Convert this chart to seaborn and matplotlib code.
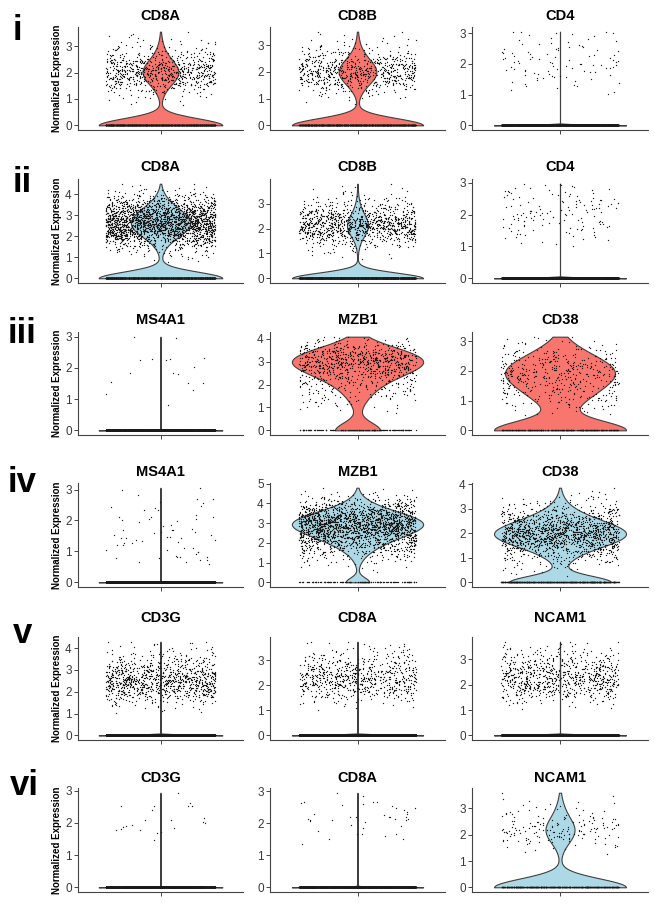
import numpy as np
import matplotlib
matplotlib.use("Agg")
import matplotlib.pyplot as plt
import seaborn as sns

sns.set_style("ticks")
plt.rcParams['font.family'] = ['Liberation Sans', 'DejaVu Sans']

# ---------------------------------------------------------------- data
ROW_LABELS = ["i", "ii", "iii", "iv", "v", "vi"]
ROW_GENES = [["CD8A", "CD8B", "CD4"],
             ["CD8A", "CD8B", "CD4"],
             ["MS4A1", "MZB1", "CD38"],
             ["MS4A1", "MZB1", "CD38"],
             ["CD3G", "CD8A", "NCAM1"],
             ["CD3G", "CD8A", "NCAM1"]]
ROW_COLORS = ["#F8766D", "#ADD8E6", "#F8766D", "#ADD8E6", "#F8766D", "#ADD8E6"]

# histograms of non-zero expression: bin k covers [0.25+0.25k, 0.5+0.25k)
BIN_START = 0.25
BIN_STEP = 0.25

i_CD8A_hist = [0, 0, 5, 15, 45, 110, 170, 170, 120, 60, 30, 15, 6]
i_CD8A_top, i_CD8A_zeros = 3.55, 1350
i_CD8B_hist = [0, 0, 3, 15, 45, 110, 165, 160, 110, 55, 25, 12, 5]
i_CD8B_top, i_CD8B_zeros = 3.5, 1300
i_CD4_hist = [0, 0, 0, 4, 8, 14, 18, 18, 14, 10, 6, 4]
i_CD4_top, i_CD4_zeros = 3.05, 4000

ii_CD8A_hist = [0, 0, 5, 15, 35, 80, 160, 270, 350, 380, 350, 280, 190, 110, 55, 20, 6]
ii_CD8A_top, ii_CD8A_zeros = 4.5, 2200
ii_CD8B_hist = [0, 0, 5, 15, 40, 100, 210, 250, 200, 120, 60, 30, 12, 5]
ii_CD8B_top, ii_CD8B_zeros = 3.8, 3000
ii_CD4_hist = [0, 0, 0, 6, 12, 20, 25, 25, 22, 16, 10]
ii_CD4_top, ii_CD4_zeros = 2.97, 5000

iii_MS4A1_values = [3.0, 2.26, 2.02, 1.56, 1.84, 2.25, 1.53, 0.8, 2.28, 2.33,
                    1.84, 2.28, 1.8, 1.16, 1.28, 2.97, 1.52]
iii_MS4A1_zeros = 4000
iii_MZB1_hist = [0, 0, 5, 12, 18, 28, 40, 55, 80, 115, 145, 150, 120, 75, 25, 6]
iii_MZB1_top, iii_MZB1_zeros = 4.1, 150
iii_CD38_hist = [0, 10, 25, 40, 50, 65, 80, 75, 55, 35, 15, 5]
iii_CD38_top, iii_CD38_zeros = 3.15, 260

iv_MS4A1_values = [3.0, 2.68, 2.55, 2.47, 2.17, 2.11, 1.99, 1.85, 2.06, 1.04,
                   1.04, 1.2, 1.37, 1.31, 1.34, 0.83, 0.83, 0.72, 0.72, 0.59,
                   2.6, 2.44, 2.33, 1.63, 1.69, 1.47, 1.47, 1.2, 0.99, 0.77,
                   1.96, 1.82, 1.74, 2.12, 3.06, 2.01, 1.63, 1.53, 1.42, 1.26,
                   0.99, 1.26, 2.33, 1.42, 1.53, 2.39, 2.06, 1.69, 1.69, 2.71,
                   0.85, 0.67, 1.1, 0.83, 0.67, 1.58, 2.12, 1.1, 1.37, 1.42,
                   0.93, 0.77, 2.82]
iv_MS4A1_zeros = 5000
iv_MZB1_hist = [0, 3, 8, 20, 40, 70, 110, 160, 220, 280, 320, 310, 250, 170, 100, 50, 20, 6]
iv_MZB1_top, iv_MZB1_zeros = 4.8, 130
iv_CD38_hist = [5, 15, 35, 70, 130, 220, 280, 270, 200, 130, 70, 35, 15, 6]
iv_CD38_top, iv_CD38_zeros = 3.85, 500

v_CD3G_hist = [0, 0, 0, 5, 15, 40, 90, 150, 180, 170, 130, 90, 55, 30, 15, 8, 3]
v_CD3G_top, v_CD3G_zeros = 4.3, 15000
v_CD8A_hist = [0, 0, 0, 5, 20, 55, 100, 135, 130, 100, 65, 40, 20, 10]
v_CD8A_top, v_CD8A_zeros = 3.75, 12000
v_NCAM1_hist = [0, 0, 0, 6, 25, 70, 120, 150, 140, 110, 75, 45, 25, 10]
v_NCAM1_top, v_NCAM1_zeros = 3.7, 13000

vi_CD3G_values = [2.94, 2.63, 2.0, 2.1, 2.52, 1.93, 1.9, 2.4, 2.14, 1.88,
                  1.79, 2.52, 2.52, 1.82, 2.08, 1.77, 1.48, 2.52, 1.72, 1.69,
                  2.03, 1.85]
vi_CD3G_zeros = 4000
vi_CD8A_values = [2.67, 2.48, 2.35, 2.2, 2.57, 2.2, 2.3, 2.2, 2.46, 2.84,
                  2.14, 2.67, 2.14, 2.09, 2.09, 2.67, 1.77, 1.5, 1.66, 1.6,
                  1.34, 1.66, 1.5, 2.09, 2.14, 2.95, 2.3, 2.62, 1.66, 2.08,
                  2.2, 2.25, 1.95, 2.4, 2.55, 1.85, 2.05, 2.6, 2.18, 1.9]
vi_CD8A_zeros = 4000
vi_NCAM1_hist = [0, 0, 0, 0, 4, 12, 30, 45, 35, 20, 12, 7, 3]
vi_NCAM1_top, vi_NCAM1_zeros = 3.6, 480


def from_hist(hist, top, zeros):
    vals = [0.0] * zeros
    for k, c in enumerate(hist):
        if c == 0:
            continue
        lo = BIN_START + k * BIN_STEP
        hi = min(lo + BIN_STEP, top)
        vals.extend(lo + (np.arange(c) + 0.5) / c * (hi - lo))
    vals.append(top)
    return np.asarray(vals, dtype=float)


def from_values(values, zeros):
    return np.asarray([0.0] * zeros + list(values), dtype=float)


PANELS = [
    [from_hist(i_CD8A_hist, i_CD8A_top, i_CD8A_zeros),
     from_hist(i_CD8B_hist, i_CD8B_top, i_CD8B_zeros),
     from_hist(i_CD4_hist, i_CD4_top, i_CD4_zeros)],
    [from_hist(ii_CD8A_hist, ii_CD8A_top, ii_CD8A_zeros),
     from_hist(ii_CD8B_hist, ii_CD8B_top, ii_CD8B_zeros),
     from_hist(ii_CD4_hist, ii_CD4_top, ii_CD4_zeros)],
    [from_values(iii_MS4A1_values, iii_MS4A1_zeros),
     from_hist(iii_MZB1_hist, iii_MZB1_top, iii_MZB1_zeros),
     from_hist(iii_CD38_hist, iii_CD38_top, iii_CD38_zeros)],
    [from_values(iv_MS4A1_values, iv_MS4A1_zeros),
     from_hist(iv_MZB1_hist, iv_MZB1_top, iv_MZB1_zeros),
     from_hist(iv_CD38_hist, iv_CD38_top, iv_CD38_zeros)],
    [from_hist(v_CD3G_hist, v_CD3G_top, v_CD3G_zeros),
     from_hist(v_CD8A_hist, v_CD8A_top, v_CD8A_zeros),
     from_hist(v_NCAM1_hist, v_NCAM1_top, v_NCAM1_zeros)],
    [from_values(vi_CD3G_values, vi_CD3G_zeros),
     from_values(vi_CD8A_values, vi_CD8A_zeros),
     from_hist(vi_NCAM1_hist, vi_NCAM1_top, vi_NCAM1_zeros)],
]

# ---------------------------------------------------------------- layout
W, H = 655, 905
COL_X = [(78, 243), (270, 445), (472, 648)]
ROW_Y = [(27, 130), (179, 283), (332, 435), (483, 587), (637, 740), (788, 892)]
TITLE_BASE = [20, 171, 324, 476, 622, 782]
NUM_POS = [(13, 40), (13, 192), (8, 343), (8, 492), (13, 643), (10, 795)]
# kernel bandwidth factor: panels that are almost all zeros collapse to a line
BW = [[1.2, 1.2, 0.3],
      [1.2, 1.2, 0.3],
      [0.3, 1.2, 1.2],
      [0.3, 1.2, 1.2],
      [0.3, 0.3, 0.3],
      [0.3, 0.3, 1.2]]
AXIS_COLOR = "#444444"

np.random.seed(7)
fig = plt.figure(figsize=(W / 100, H / 100), dpi=100)

for r in range(6):
    y0, y1 = ROW_Y[r]
    for c in range(3):
        x0, x1 = COL_X[c]
        ax = fig.add_axes([x0 / W, 1 - y1 / H, (x1 - x0) / W, (y1 - y0) / H])
        vals = PANELS[r][c]
        top = vals.max()
        sns.violinplot(y=vals, ax=ax, color=ROW_COLORS[r], saturation=1,
                       cut=0, density_norm="width", width=0.9, inner=None,
                       linewidth=0.8, linecolor="#404040",
                       bw_method="scott", bw_adjust=BW[r][c])
        sns.stripplot(y=vals, ax=ax, color="#1a1a1a", size=0.95, jitter=0.4,
                      linewidth=0, zorder=3)
        ymax = 1.05 * top
        ax.set_xlim(-0.6, 0.6)
        ax.set_ylim(-0.05 * top, ymax)
        ax.set_xticks([0])
        ax.set_xticklabels([""])
        ax.set_yticks(range(0, int(np.floor(ymax)) + 1))
        ax.tick_params(axis="both", length=3, width=0.7, color=AXIS_COLOR,
                       labelsize=8.5, labelcolor="#3a3a3a", pad=1.5)
        for side in ("top", "right"):
            ax.spines[side].set_visible(False)
        for side in ("left", "bottom"):
            ax.spines[side].set_color(AXIS_COLOR)
            ax.spines[side].set_linewidth(0.8)
        if c == 0:
            ax.set_ylabel("Normalized Expression", fontsize=7, fontweight="bold",
                          labelpad=2, color="black")
        else:
            ax.set_ylabel("")
        fig.text((x0 + x1) / 2 / W, 1 - TITLE_BASE[r] / H, ROW_GENES[r][c],
                 ha="center", va="baseline", fontsize=10.5, fontweight="bold",
                 color="black")
    nx, ny = NUM_POS[r]
    fig.text(nx / W, 1 - ny / H, ROW_LABELS[r], ha="left", va="baseline",
             fontsize=25, fontweight="bold", color="black")

fig.savefig("out.png", dpi=100)
